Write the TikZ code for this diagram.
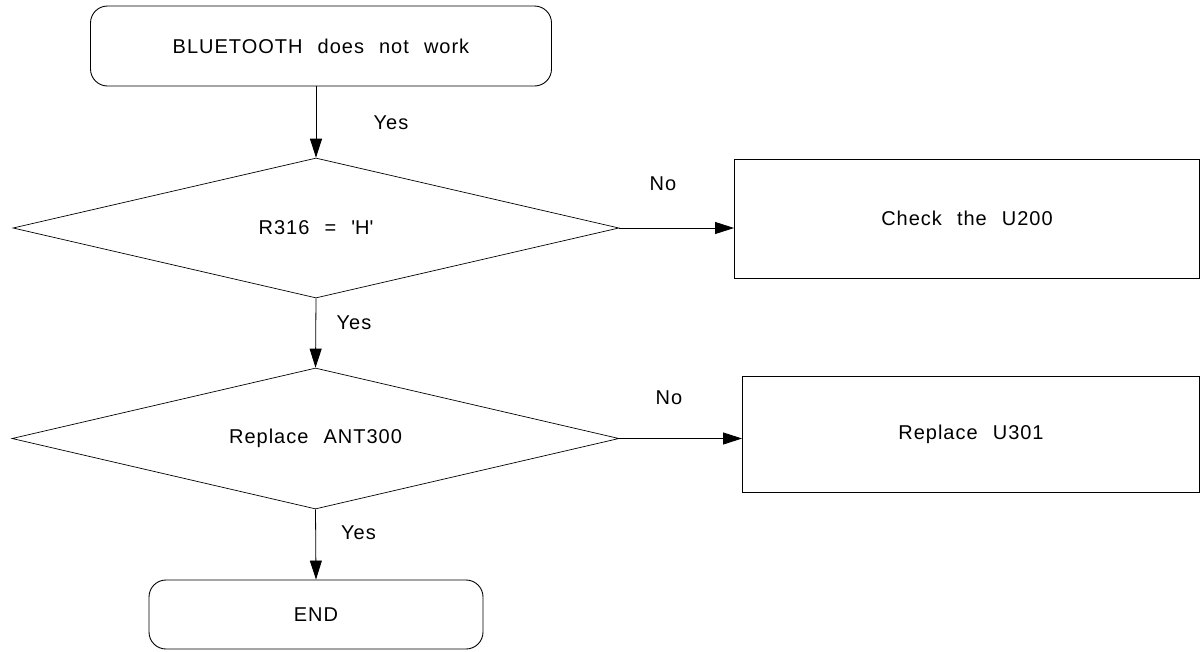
\documentclass[tikz,border=0pt]{standalone}
\usepackage{fontspec}
\setmainfont{Liberation Sans}[LetterSpace=5,WordSpace=2.3]
\usetikzlibrary{arrows.meta,shapes.geometric}

\begin{document}
\begin{tikzpicture}[x=1pt,y=-1pt,font=\fontsize{20}{24}\selectfont,
	terminal/.style={draw,line width=0.9pt,rounded corners=17pt,inner sep=0pt},
	test/.style={draw,diamond,aspect=4.3,line width=0.7pt,inner sep=0pt},
	action/.style={draw,line width=0.9pt,inner sep=0pt},
	flow/.style={-{Triangle[length=19pt,width=12pt]},line width=0.8pt}]
	\useasboundingbox (0,0) rectangle (1201,651);
	% boxes
	\node[terminal,minimum width=461pt,minimum height=80pt] (start) at (321,46) {BLUETOOTH does not work};
	\node[test,minimum width=606pt,minimum height=140pt] (d1) at (316,228) {R316 = \textquotesingle H\textquotesingle};
	\node[action,minimum width=465pt,minimum height=119pt] (chk) at (967,218.5) {Check the U200};
	\node[test,minimum width=607pt,minimum height=141pt] (d2) at (315.5,438.5) {Replace ANT300};
	\node[action,minimum width=457pt,minimum height=116pt] (rep) at (971,434) {Replace U301};
	\node[terminal,minimum width=334pt,minimum height=69pt] (end) at (316,614.5) {END};
	% connectors
	\draw[flow] (start.south -| d1.north) -- (d1.north);
	\draw[flow] (d1.south) -- (d2.north);
	\draw[flow] (d2.south) -- (end.north);
	\draw[flow] (d1.east) -- (chk.west |- d1.east);
	\draw[flow] (d2.east) -- (rep.west |- d2.east);
	% labels
	\node (yes1) at (391,123) {Yes};
	\node (yes2) at (354,323) {Yes};
	\node (yes3) at (358.5,533) {Yes};
	\node (no1) at (663,184) {No};
	\node (no2) at (669,398) {No};
\end{tikzpicture}
\end{document}
